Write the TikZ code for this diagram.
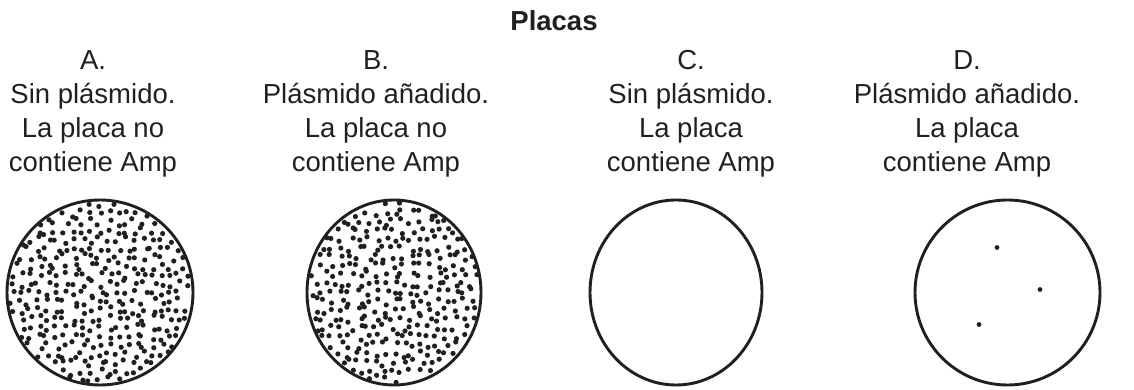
\documentclass[tikz,border=0pt]{standalone}
\usepackage{fontspec}
\setmainfont{Liberation Sans}
\definecolor{tinta}{HTML}{231F20}

\begin{document}
\begin{tikzpicture}[x=0.5pt,y=0.5pt,
    placa/.style={draw=tinta,line width=1.45pt},
    texto/.style={align=center,anchor=north,inner sep=0pt,text=tinta,font=\fontsize{13.75pt}{17pt}\selectfont},
    colonia/.style={fill=tinta}]
\useasboundingbox (0,0) rectangle (1134,390);
% titulo y textos
\node[inner sep=0pt,anchor=base,text=tinta,font=\fontsize{13.75pt}{17pt}\selectfont\bfseries] (titulo) at (554,359) {Placas};
\node[texto] (textoA) at (93,340) {A.\\Sin plásmido.\\La placa no\\contiene Amp};
\node[texto] (textoB) at (376,340) {B.\\Plásmido añadido.\\La placa no\\contiene Amp};
\node[texto] (textoC) at (691,340) {C.\\Sin plásmido.\\La placa\\contiene Amp};
\node[texto] (textoD) at (967,340) {D.\\Plásmido añadido.\\La placa\\contiene Amp};
% placas
\coordinate (A) at (100,97.5);
\coordinate (B) at (394,97.5);
\coordinate (C) at (676,97.5);
\coordinate (D) at (1007.5,97.5);
\draw[placa] (A) ellipse [x radius=93, y radius=92.5];
\draw[placa] (B) ellipse [x radius=87, y radius=92.5];
\draw[placa] (C) ellipse [x radius=86, y radius=92.5];
\draw[placa] (D) ellipse [x radius=92.5, y radius=92.5];
% colonias
\pgfmathsetseed{11}
\foreach \i in {-11,...,11}{\foreach \j in {-11,...,11}{
  \pgfmathsetmacro{\px}{8.8*\i+7.5*rnd-3.75}
  \pgfmathsetmacro{\py}{8.8*\j+7.5*rnd-3.75}
  \pgfmathtruncatemacro{\dentro}{(\px*\px)/(93*93)+(\py*\py)/(92.5*92.5)<0.96}
  \ifnum\dentro=1 \fill[colonia] (A) ++(\px,\py) circle (2.6);\fi
}}
\pgfmathsetseed{23}
\foreach \i in {-11,...,11}{\foreach \j in {-11,...,11}{
  \pgfmathsetmacro{\px}{8.8*\i+7.5*rnd-3.75}
  \pgfmathsetmacro{\py}{8.8*\j+7.5*rnd-3.75}
  \pgfmathtruncatemacro{\dentro}{(\px*\px)/(87*87)+(\py*\py)/(92.5*92.5)<0.96}
  \ifnum\dentro=1 \fill[colonia] (B) ++(\px,\py) circle (2.6);\fi
}}
\foreach \dx/\dy in {-10.5/45, 32.5/3, -28.5/-32}
  \fill[colonia] (D) ++(\dx,\dy) circle (2.4);
\end{tikzpicture}
\end{document}
